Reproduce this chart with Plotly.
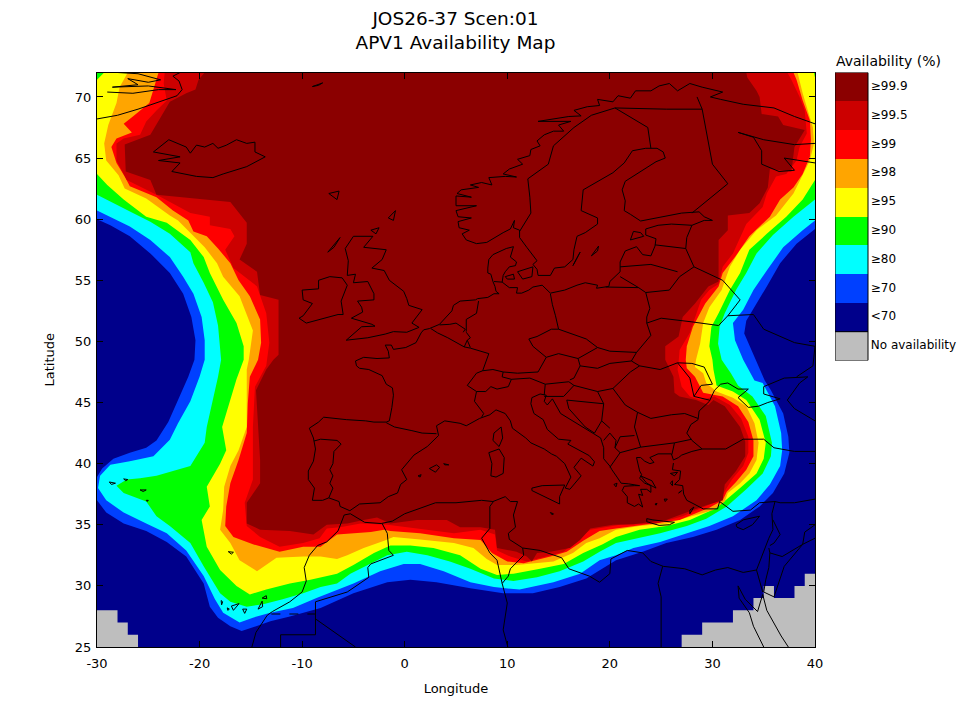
import plotly.graph_objects as go

TITLE_TEXT = "JOS26-37 Scen:01<br>APV1 Availability Map"
LEVEL_LABELS = ["≥99.9", "≥99.5", "≥99", "≥98", "≥95", "≥90", "≥80", "≥70", "<70", "No availability"]
LEVEL_COLORS = ["#8B0000", "#CC0000", "#FF0000", "#FFA500", "#FFFF00", "#00FF00", "#00FFFF", "#0040FF", "#00008B", "#BEBEBE"]
X_TICKS = [-30, -20, -10, 0, 10, 20, 30, 40]
Y_TICKS = [25, 30, 35, 40, 45, 50, 55, 60, 65, 70]

ALL_REGION = [(-30,25),(40,25),(40,72),(-30,72)]
GE70 = [(-30,60.0),(-28.7,59.5),(-26.8,58.6),(-24.8,57.2),(-22.9,55.6),(-21.6,53.9),(-20.8,52),(-20.4,50.1),(-20.5,48.5),(-21.1,47.1),(-22.1,45.2),(-23.05,43.4),(-24.2,41.9),(-25.2,41.3),(-26.8,40.9),(-28.4,40.4),(-29.5,39.6),(-30,38.9),(-30,37),(-29.1,36),(-27.4,35.1),(-25.2,34.5),(-23.2,33.6),(-21.3,32.4),(-19.6,30.2),(-19,28.3),(-18.2,27.4),(-17,26.7),(-15.9,26.3),(-14.8,26.6),(-13.1,27.1),(-11.2,27.5),(-9.6,27.9),(-8.2,28.2),(-5,29.4),(-1.7,30.3),(0.55,30.5),(3.1,30.3),(6.4,29.8),(9.6,29.4),(12.5,29.4),(15.1,29.9),(17.7,30.6),(19,31.3),(20.6,32.1),(23.2,32.8),(25.5,33.5),(28.1,34),(30.4,34.6),(32.7,35.4),(34.6,36.5),(35.9,37.6),(37,39.2),(37.5,40.9),(37.4,42.2),(36.9,44.1),(35.7,46),(35.1,46.8),(34,49),(33.1,50.65),(33.3,51.7),(34.1,52.8),(35.3,54.5),(36.6,56.4),(38.2,58),(40,59.2),(40,72),(-30,72)]
GE80 = [(-30,60.7),(-28.7,60.2),(-26.8,59.4),(-24.8,58.3),(-22.9,56.9),(-21.6,55.3),(-20.6,53.9),(-19.8,52),(-19.5,50.1),(-19.5,48.5),(-20,47.1),(-20.9,45.1),(-22.1,43.3),(-22.9,41.95),(-24.5,40.6),(-26.8,40.2),(-28.7,39.9),(-29.7,39),(-29.9,38),(-29.1,37),(-27.4,36),(-25.2,35.1),(-23.2,34.3),(-21.3,32.9),(-19.6,30.8),(-18.5,28.9),(-17.7,27.8),(-16.1,27),(-14.8,27.4),(-13.1,27.8),(-10.9,28.2),(-8.6,29),(-6.6,29.7),(-5,30.2),(-2.4,31.2),(-0.1,31.8),(1.5,31.8),(3.8,31.2),(6.4,30.3),(8.7,29.9),(11.2,29.7),(14.5,30.3),(17.1,31),(19,32.1),(20.6,32.5),(22.3,33.1),(24.9,33.6),(27.5,34.3),(29.7,34.9),(32,35.7),(34.3,37),(35.6,38.3),(36.6,39.8),(36.8,41.1),(36.7,42.5),(36.1,44.7),(34.9,46.6),(34.1,46.8),(33,48.5),(32.2,50.1),(32,51.5),(33,52.6),(34,54.2),(35.3,55.8),(36.9,57.7),(38.8,59.1),(40,59.9),(40,72),(-30,72)]
GE90 = [(-30,62),(-28.4,61.3),(-26.5,60.5),(-24.8,59.8),(-22.9,58.8),(-20.9,57.3),(-20.6,56.4),(-19.6,54.8),(-18.7,53.2),(-18.2,51.3),(-17.9,48.5),(-18.2,47.1),(-18.8,44.9),(-19.3,43),(-19.5,41.7),(-20.9,39.8),(-24.2,39),(-25.8,38.8),(-27.1,38.7),(-28.1,38.2),(-27.4,37.6),(-25.2,36.9),(-24.2,35.7),(-22.9,34.9),(-20.9,33.5),(-19.6,31.6),(-18,29.4),(-17,28.7),(-15.4,28.3),(-13.8,28.5),(-11.9,28.9),(-9.9,29.4),(-8.2,29.9),(-6.6,30.2),(-5.3,31),(-3.3,31.8),(-1.7,32.5),(0.2,32.8),(2.2,32.5),(4.4,32),(6.4,31.4),(8.7,30.6),(10.6,30.4),(12.9,30.7),(15.1,31.2),(17.4,32),(19,32.8),(20.6,33.5),(22.6,33.9),(24.9,34.3),(27.5,34.9),(29.4,35.5),(31.4,36.5),(33.3,37.9),(34.9,39.2),(35.7,40.6),(35.8,41.7),(35.2,43.9),(33.9,45.5),(32.5,46.4),(31.8,47.4),(30.9,48.5),(30.55,49.8),(30.7,51.2),(31.2,52.3),(32.3,54.2),(33.3,55.6),(34.3,57.2),(35.9,58.7),(37.9,60.2),(40,61.6),(40,72),(-30,72)]
GE95 = [(-29.3,72),(-30,71.4),(-30,63.7),(-29,62.8),(-27.4,61.6),(-25.2,60.2),(-23.2,59.7),(-20.9,58.3),(-19.6,56.9),(-19,55.6),(-17.7,53.4),(-16.4,51.5),(-15.7,49.6),(-15.7,48.5),(-16.4,46.9),(-17,45.2),(-17.8,43),(-17.4,41.1),(-18,40),(-19.3,38.1),(-19,36.5),(-19.8,35.4),(-19.3,33.2),(-18,31.3),(-16.4,30),(-15.1,29.3),(-13.5,29.7),(-11.2,30.2),(-9.2,30.5),(-6.6,31),(-5,31.7),(-3,32.7),(-1.4,33.3),(0.55,33.3),(2.8,33.1),(5.4,32.5),(7.4,31.4),(9,30.9),(10.6,31),(13.2,31.4),(15.5,31.8),(17.4,32.7),(19.3,33.4),(20.6,34),(22.9,34.6),(25.5,34.9),(27.8,35.4),(29.7,36.1),(31,36.8),(32.7,38),(34.3,39.2),(35,40.4),(35.2,41.7),(34.6,43.6),(33.3,45.2),(32,45.9),(30.4,46.4),(30.1,47.7),(30,48.5),(29.7,49.6),(29.9,51.2),(30.6,52.3),(31.7,54.2),(32.7,55.6),(33.6,57.5),(35.3,58.8),(37.2,60.2),(38.8,61.6),(40,63.2),(40,71.6),(39.9,72)]
GE98 = [(-27,72),(-27.8,70.8),(-28.1,69.5),(-28.9,67.7),(-29.3,66.2),(-29.1,64.8),(-27.9,63.6),(-27.3,62.5),(-25.2,61.7),(-22.9,60.3),(-22.1,59.9),(-20.8,58.8),(-19.5,57.7),(-18.3,56.4),(-17.7,55.3),(-16.1,53.7),(-14.8,50.9),(-15.2,48.5),(-15.4,47.7),(-15.4,44.9),(-15.4,43),(-16.2,41.1),(-17,39.8),(-17.6,38.1),(-17.7,36.2),(-18,34.6),(-17,33.5),(-16.1,32.1),(-14.4,31.2),(-12.5,32.3),(-9.9,32.4),(-8.2,32.4),(-6.6,32.2),(-5.6,32.5),(-4,33.1),(-2,33.7),(-1.1,34),(1.5,33.8),(4.8,33.5),(6.7,33.1),(8,32.2),(9,31.7),(10.9,31.7),(14.5,32),(16.4,32.7),(17.7,33.5),(19,33.9),(20.6,34.6),(22.9,34.9),(25.5,35.1),(28.1,35.7),(30.1,36.2),(31.2,36.9),(31.5,37.6),(32.7,38.4),(33.6,39.2),(34.3,40.3),(34.5,41.7),(34.1,43.3),(33.3,44.7),(32,45.4),(30.4,45.9),(29.4,46.6),(29.1,47.4),(28.3,47.9),(28.4,48.5),(28.8,49.8),(29.1,51.5),(29.7,52.8),(30.9,54.2),(31.7,56.1),(32.7,57.5),(34.3,59.1),(36.2,60.3),(37.9,62.1),(38.8,63.6),(39.5,64.8),(39.9,66.2),(39.8,67.5),(39.3,68.9),(38.8,70.3),(38.3,72)]
GE99 = [(-24,72),(-24.5,70.6),(-24.9,69.5),(-26.5,68.4),(-27.4,67.8),(-26.6,67.1),(-28.1,66.6),(-28.6,65.9),(-28.1,64.6),(-27.3,63.5),(-26.8,62.7),(-24.2,61.8),(-22.6,60.7),(-21.1,59.9),(-20.6,59),(-19.3,58.6),(-18.2,57.6),(-17,56.4),(-16.2,55),(-15.1,53.7),(-14.1,51.8),(-14,49.9),(-14.3,48.5),(-15.1,47.1),(-15.3,44.9),(-15.4,42.5),(-16.2,40.3),(-17,38.4),(-17.4,36.5),(-17.5,34.9),(-16.7,34),(-14.8,33.4),(-12.2,32.8),(-9.9,33.2),(-8.2,33.2),(-6.6,34.2),(-3.3,34.4),(-2,34.6),(-1.4,34.5),(1.5,34.3),(4.8,33.9),(7.4,33.75),(8.5,32.7),(10,32),(11.6,31.85),(14.2,32.4),(15.8,32.8),(17.4,33.7),(19,34.5),(20.6,34.7),(23.2,35),(26.8,35.4),(29.7,36.4),(31,37),(31.4,37.7),(32.3,38.5),(33.3,39.5),(34,40.6),(34,41.9),(33.5,43.4),(32.5,44.7),(31,45.5),(29.1,45.8),(28.8,46.3),(28.3,47.1),(27.5,47.8),(27.4,48.5),(27.5,49.6),(28.1,51.2),(29.3,53.1),(30.6,54.5),(31,55.6),(32.2,56.9),(33.6,58.6),(35.6,60.2),(36.6,61.6),(37.9,62.6),(38.8,63.7),(39.5,65.1),(39.6,66.5),(39.5,68.1),(38.8,69.7),(38.2,71.4),(37.9,72)]
GE995 = [(-23.4,72),(-23.5,71.1),(-23.2,69.7),(-24.2,68.9),(-25.2,68),(-25.8,66.9),(-27.4,66.6),(-28.1,66.2),(-28.1,64.8),(-27.1,63.2),(-24.2,62),(-22.9,61.4),(-20.9,60.5),(-19,60.2),(-19,59.5),(-17,59.2),(-16.6,58.6),(-17.5,57.5),(-16.7,56),(-14.4,54.5),(-14.1,53.7),(-13.5,52.3),(-13.2,49.9),(-13.5,48),(-14.6,46.3),(-14.8,43),(-14.8,40.3),(-14.8,38.7),(-15.6,36.8),(-15.4,34.9),(-14.1,34),(-12.2,33.2),(-9.9,33.5),(-8.3,33.9),(-7.6,34.7),(-6.3,34.8),(-4.3,35.1),(-1.7,35),(1.2,34.7),(4.8,34.3),(7.4,34.6),(8.8,34.2),(9,32.9),(10.3,32.4),(11.9,32),(14.2,32.5),(15.5,32.8),(16.8,33.75),(18.1,34.6),(21,35),(24.5,35.1),(27.1,35.7),(29.4,36.5),(30.7,37),(31.1,37.6),(31.9,38.7),(33,39.8),(33.5,40.9),(33.5,42.2),(32.8,43.7),(31.7,44.8),(30.2,45.5),(28.8,45.2),(27.8,45.5),(27,46.3),(26.6,47.7),(26.7,48.3),(26.8,49.3),(27.8,50.7),(28.9,53.4),(29.7,54.2),(30.6,54.7),(31,56.1),(32,57.2),(33.3,59.6),(34.9,61),(35.3,62.1),(36.2,63.5),(37.2,63.7),(38.2,64.8),(38.5,65.9),(39.2,67),(39,68.9),(38.5,70),(37.7,71.4),(37.3,72)]
GE999 = [(-19.5,72),(-20.1,71.4),(-20.4,70.6),(-21.3,70.3),(-22.9,69.6),(-23.4,68.9),(-24,68.1),(-24.8,66.9),(-27.3,66.1),(-27.2,63.9),(-24.8,63.2),(-24.2,62),(-17,61.4),(-15.4,59.7),(-15.4,58),(-16.1,56.7),(-14.4,55.7),(-14.1,53.8),(-12.3,53.4),(-12.3,48.9),(-12.8,48.5),(-13.5,47.7),(-14.5,46),(-14.3,43),(-14.1,40.3),(-14.1,38.4),(-15.4,36.8),(-15.4,35.1),(-14.1,34.6),(-11.2,34.5),(-8.9,34.2),(-7.6,35),(-5.6,35.1),(-4,35.4),(-2.7,35.6),(-1.4,35.1),(1.2,35.4),(4.1,35.4),(5.4,34.8),(7.4,34.8),(8.8,34.6),(9,33.1),(10.9,32.8),(11.9,32.4),(12.4,32),(12.9,32.7),(14.2,32.8),(16.1,33.1),(17.1,33.75),(18.1,34.7),(20.3,35),(22.3,35.05),(25.5,35.4),(26.8,35.8),(29.4,36.6),(31,37),(31.2,38.3),(32.3,39.4),(33.2,40.6),(33.2,41.8),(32.7,43),(31.2,44.7),(30.1,45.2),(29.6,44.8),(28.4,45.2),(26.8,45.5),(26.3,45.8),(26.2,47.1),(25.4,48.5),(25.4,49.6),(26.7,50.4),(27.1,52),(28.3,53.1),(29.6,54.5),(30.6,54.9),(30.6,58.3),(31.5,59.1),(31.5,60.3),(33.6,60.5),(34.6,61.3),(35.4,62.6),(35.6,64.1),(37.7,63.9),(38,65.9),(39,67.3),(36.9,67.7),(36.4,68.4),(34.8,68.6),(34.6,70),(34.3,70.5),(33.4,71.6),(33.3,72)]

NO_AVAIL_WEST = [(-30,25),(-30,28),(-28,28),(-28,27),(-27,27),(-27,26),(-26,26),(-26,25)]
NO_AVAIL_EAST = [(27,25),(27,26),(29,26),(29,27),(32,27),(32,28),(34,28),(34,29),(35,29),(35,30),(36,30),(36,29),(38,29),(38,30),(39,30),(39,31),(40,31),(40,25)]

COAST_EUROPE = [(-5.35,36.15),(-6.3,36.5),(-6.4,36.9),(-7.4,37.2),(-8,37),(-9,37),(-8.8,38),(-9.4,38.7),(-9.4,39.4),(-8.9,40.2),(-8.7,41.2),(-8.9,42.1),(-9.3,42.9),(-8.4,43.4),(-7.9,43.8),(-5.7,43.6),(-3.8,43.5),(-3,43.4),(-1.8,43.4),(-1.5,43.5),(-1.25,44.6),(-1.1,45.6),(-1.2,46.2),(-1.8,46.5),(-2.2,47.2),(-3.1,47.5),(-3.5,47.7),(-4.4,47.8),(-4.7,48),(-4.8,48.4),(-4,48.7),(-2.7,48.6),(-2,48.65),(-1.5,48.65),(-1.6,49.2),(-1.9,49.7),(-1.3,49.7),(-1.1,49.35),(0.1,49.5),(1.1,49.9),(1.6,50.7),(1.85,50.95),(2.4,51.05),(2.9,51.2),(3.4,51.4),(3.5,51.5),(4.1,52),(4.6,52.5),(4.75,52.95),(5.4,53.3),(6.9,53.4),(7.1,53.5),(8.1,53.6),(8.7,53.9),(9.2,53.9),(8.9,54.1),(8.8,54.5),(8.6,54.9),(8.4,55.5),(8.1,55.6),(8.1,56),(8.2,56.7),(8.6,57.1),(9.9,57.6),(10.6,57.75),(10.5,57.4),(10.3,56.9),(10.9,56.5),(10.8,56.2),(10.2,56.1),(9.8,55.7),(9.6,55.4),(9.5,54.85),(10.2,54.4),(11,54.4),(10.9,53.95),(11.4,53.95),(12.1,54.2),(12.5,54.45),(13.4,54.6),(14.2,53.95),(15.6,54.2),(16.8,54.6),(17.6,54.8),(18.8,54.6),(18.7,54.35),(19.9,54.5),(20,54.9),(21,55.7),(21,56.5),(21.5,57.4),(22.6,57.75),(23.2,57.1),(24,57),(24.4,57.8),(24.5,58.4),(23.5,58.7),(23.5,59.2),(24.7,59.5),(26,59.6),(28,59.5),(29.2,59.9),(30,59.9),(29.2,60.2),(28.7,60.6),(27,60.5),(25,60.2),(23,59.85),(22,60.4),(21.4,60.7),(21.5,61.5),(21.2,62.4),(21.5,63.1),(22.8,63.8),(24.5,64.7),(25.4,65),(25.2,65.5),(24.6,65.8),(23.5,65.8),(22.2,65.6),(21.4,64.6),(20.3,63.8),(18.7,63),(17.4,62.4),(17.2,60.7),(18.8,60.1),(18.8,59.6),(17.6,58.9),(16.8,58.6),(16.5,57.5),(16.4,56.7),(15.6,56.1),(14.6,56),(14.2,55.4),(13,55.4),(12.9,55.9),(12.5,56.3),(12.9,56.6),(11.9,57.7),(11.2,58.5),(11.2,59.1),(10.6,59.3),(10.7,59.9),(10.3,59.2),(9.6,58.9),(8,58.1),(7,58),(6,58.3),(5.6,58.8),(6.3,59.1),(5.3,59.3),(5.2,59.8),(6.5,60.1),(5.2,60.2),(5,60.7),(7,61.1),(5,61.1),(5,61.9),(6.5,61.8),(5.1,62.1),(5.5,62.4),(7.2,62.6),(6.4,62.8),(7.5,63),(8.5,62.8),(8.2,63.4),(9.8,63.5),(10.9,63.45),(9.6,63.7),(10.2,64.1),(11.5,64.5),(11,64.9),(12.2,65.2),(12.3,65.7),(13.2,66),(12.9,66.4),(13.6,66.9),(14.5,67.2),(15.5,67.2),(15,67.7),(16.2,68),(13,68),(16,68.4),(17.2,68.45),(16.5,68.9),(17.8,69.2),(19,69.3),(18.8,69.8),(20.3,69.6),(20.8,70.1),(22,69.9),(22.5,70.5),(24,70.5),(24.8,70.9),(25.8,71.1),(26.6,70.5),(27.8,71.1),(29,70.8),(31,70.4),(29.8,70),(30.8,69.8),(33,69.4),(36,69.1),(38,68.4),(40,67.8)]
COAST_WHITE_SEA = [(32.5,67.1),(34,66.7),(34.8,65.6),(34.8,64.5),(36.5,63.9),(38,64),(37,65),(38.5,64.8),(40,64.6)]
COAST_KOLA = [(32.5,67.1),(35,66.5),(38,66.1),(40,66.2)]
COAST_MED = [(-5.35,36.15),(-4.4,36.7),(-2.4,36.8),(-1.6,37.3),(-0.7,37.6),(-0.4,38.3),(0.2,38.7),(-0.3,39.5),(0.9,40.7),(2.2,41.4),(3.3,42.3),(3.1,43.1),(3.9,43.5),(5.4,43.3),(6,43.1),(7.3,43.7),(8.3,44),(8.9,44.4),(9.8,44.1),(10.3,43.5),(10.5,42.9),(11.8,42.1),(12.3,41.7),(13.6,41.2),(14.3,40.8),(14.8,40.6),(15.6,40),(16.2,38.9),(15.65,38),(16.1,37.9),(17.2,39),(16.5,39.7),(17.2,40.45),(18.35,39.8),(18.5,40.15),(18,40.65),(16.9,41.15),(15.9,41.6),(16.2,41.9),(15,42),(13.9,42.8),(13.5,43.6),(12.6,44.1),(12.3,44.9),(12.4,45.4),(13.2,45.7),(13.8,45.6),(13.6,45.1),(13.9,44.8),(14.4,45.3),(15.2,44.1),(16.4,43.5),(18.1,42.65),(19.1,42.1),(19.4,41.3),(19.4,40.4),(20,39.8),(20.2,39.5),(20.7,38.9),(21.1,38.4),(21.8,38.35),(22.9,38.2),(22.4,38.2),(21.4,38.15),(21.2,37.8),(21.7,37.3),(21.7,36.8),(22.4,36.5),(22.8,36.7),(23.2,36.45),(23,37),(22.8,37.5),(23.2,37.4),(23,37.9),(23.6,37.9),(24,37.65),(24,38.2),(23.4,38.4),(22.9,38.8),(23.1,39.1),(22.9,39.4),(22.7,40),(22.6,40.5),(23,40.5),(23.4,40.2),(23.9,40),(24.3,40.1),(23.9,40.5),(24.7,40.8),(26,40.8),(26.2,40.3),(26.7,40.5),(27,40.7),(28,41),(29,41.2),(28,41.9),(27.5,42.5),(27.9,43.2),(28.6,43.6),(28.7,44.3),(29.7,45.1),(30.2,46),(30.8,46.5),(31.5,46.6),(32.5,46.1),(33.5,46.1),(32.5,45.4),(33.5,44.6),(34.5,44.7),(35.4,45),(36.6,45.3),(35,45.7),(35,46.3),(37,47),(38.5,47.1),(39.3,47.1),(38.5,46.6),(37.7,45.7),(37.3,45.2),(38,44.5),(40,43.5)]
COAST_TURKEY = [(29,41.2),(31.3,41.2),(33,42),(35,42),(36,41.3),(38,41),(40,41)]
COAST_SOUTH = [(26.2,40.05),(26.1,39.5),(26.9,39.4),(26.8,38.7),(26.3,38.3),(27.1,38.2),(27.2,37.5),(27.5,37),(28.2,36.7),(29.1,36.3),(30.5,36.3),(30.7,36.9),(32,36.1),(33.7,36.2),(34.6,36.8),(36.1,36.9),(35.8,35.9),(35.9,34.6),(35.5,33.9),(35,32.8),(34.3,31.3),(33,31.1),(31.5,31.5),(30.3,31.3),(29,30.9),(27.3,31.4),(25.2,31.6),(24,32),(23.2,32.7),(21.7,32.9),(20.1,32.2),(20,31),(19,30.3),(18,30.8),(16,31.4),(15.3,32.3),(13.2,32.9),(11.5,33.1),(10.2,33.8),(10.1,34.3),(10.8,34.8),(10.6,35.8),(11,36.9),(10.3,36.9),(9.8,37.3),(8.6,36.9),(7.5,37),(5,36.8),(3,36.8),(0,35.9),(-1.2,35.3),(-2.3,35.1),(-3.9,35.2),(-5.3,35.9),(-5.9,35.8),(-6.5,34.5),(-7.6,33.6),(-8.5,33.3),(-9.3,32.5),(-9.8,31.5),(-9.6,30.4),(-10,29.5),(-11.2,28.7),(-12.9,27.9),(-13.4,27.6),(-14.5,26.2),(-14.9,25)]
COAST_RED_SEA = [(32.5,30),(33.2,28.9),(34.4,27.9),(34.9,29.3),(35.3,28),(36.7,25.9),(37.4,25)]
COAST_RED_SEA_WEST = [(32.5,30),(32.6,29),(33.6,27.8),(34,26.7),(35,25)]
COAST_GREENLAND_A = [(-30,68.2),(-28,68.5),(-26,69),(-24,69.6),(-22.2,70.1),(-21.7,70.6),(-22,71.3),(-22.6,71.7),(-21.9,72)]
COAST_GREENLAND_B = [(-29,70.4),(-26.5,70.3),(-24,70.6),(-22.3,70.6),(-25,70.9),(-28.5,70.8),(-26,71),(-27,71.5),(-25,71.2),(-23.8,71.4),(-26,71.9),(-28,72)]
ICELAND = [(-22.7,63.9),(-20.3,63.5),(-18.7,63.4),(-17.7,63.7),(-15.4,64.3),(-13.6,65.1),(-14.6,65.5),(-14.6,66.3),(-15.4,66.2),(-16.4,66.5),(-17.4,66.05),(-18.2,65.8),(-18.7,66.2),(-19.5,65.9),(-20.3,66.06),(-20.9,65.4),(-21.3,65.9),(-23,66.5),(-24.5,65.5),(-21.9,65.1),(-24,64.8),(-21.9,64.6),(-22.7,63.9)]
IRELAND = [(-6,52.2),(-6.2,53.3),(-5.6,54.6),(-6.1,55.2),(-7.3,55.3),(-8.4,55),(-8.4,54.3),(-10,54.2),(-9.9,53.4),(-9,53.1),(-9.9,52.1),(-10.3,51.9),(-9.6,51.5),(-8.3,51.8),(-6.5,52.2),(-6,52.2)]
BRITAIN = [(-5.7,50.1),(-3.6,50.3),(-1.9,50.6),(-1.1,50.8),(0.2,50.75),(1.4,51.15),(0.7,51.5),(1.7,52.6),(0.4,52.95),(0.2,53.5),(-0.1,54.1),(-1.5,55),(-2,55.8),(-3.2,56),(-2.2,56.7),(-1.8,57.5),(-4,57.7),(-3.1,58.6),(-5,58.6),(-5.8,57.6),(-5.5,56.6),(-5.6,55.4),(-4.8,55.5),(-5,54.8),(-3.6,54.9),(-3,53.9),(-3,53.4),(-4.6,53.3),(-4.2,52.8),(-4.1,52.4),(-5.2,51.9),(-3.2,51.4),(-2.9,51.25),(-4.2,51.2),(-5.7,50.1)]
SICILY = [(12.4,38),(13.4,38.2),(15.6,38.25),(15.1,37.3),(15.1,36.7),(14.4,37),(13.2,37.5),(12.4,37.8),(12.4,38)]
SARDINIA = [(8.2,40.9),(9.2,41.2),(9.7,40.5),(9.6,39.2),(8.9,38.9),(8.4,39),(8.5,40),(8.2,40.9)]
CORSICA = [(9.4,43),(9.55,42.1),(9.2,41.4),(8.6,41.9),(8.7,42.5),(9.4,43)]
MALLORCA = [(2.4,39.6),(3.1,39.9),(3.4,39.7),(3,39.3),(2.4,39.6)]
MENORCA = [(3.8,40),(4.3,39.9),(3.9,39.9),(3.8,40)]
IBIZA = [(1.3,39),(1.6,39.1),(1.5,38.9),(1.3,39)]
CYPRUS = [(32.3,35),(33,35.4),(34.6,35.7),(33.9,35),(33,34.6),(32.4,34.8),(32.3,35)]
CRETE = [(23.6,35.5),(24.2,35.4),(25.2,35.3),(26.3,35.2),(25.8,35),(24.8,34.95),(23.6,35.25),(23.6,35.5)]
GOTLAND = [(18.2,57),(18.9,57.8),(18.8,57.4),(18.2,57)]
OLAND = [(16.4,56.2),(17.1,57.3),(16.6,56.4),(16.4,56.2)]
SAAREMAA = [(22,58.3),(23.3,58.6),(23,58.9),(22.3,59),(22,58.3)]
ZEALAND = [(11,55.7),(12.5,56.1),(12.4,55.3),(11.5,55.1),(11,55.7)]
FUNEN = [(9.8,55.3),(10.6,55.5),(10.7,55.1),(10,55.1),(9.8,55.3)]
FAROE = [(-7.4,62.1),(-6.4,62.3),(-6.6,61.6),(-7.4,62.1)]
SHETLAND = [(-1.6,60.1),(-0.9,60.7),(-1.1,59.9),(-1.6,60.1)]
ORKNEY = [(-3.3,59.1),(-2.5,59.3),(-2.8,58.8),(-3.3,59.1)]
HEBRIDES = [(-7.5,57.3),(-6.3,58.5),(-6.9,57.7),(-7.5,57.3)]
JAN_MAYEN = [(-9,70.85),(-8,71.15),(-8.4,70.95),(-9,70.85)]
LESBOS = [(25.9,39.2),(26.6,39.3),(26.3,39),(25.9,39.2)]
CHIOS = [(25.9,38.4),(26.1,38.6),(26.1,38.2),(25.9,38.4)]
RHODES = [(27.8,36.2),(28.2,36.45),(27.8,35.9),(27.8,36.2)]
EUBOEA = [(23,39),(24.1,38.6),(24.5,38),(23.6,38.4),(23,39)]
KEFALONIA = [(20.4,38.3),(20.7,38.4),(20.6,38.1),(20.4,38.3)]
CYCLADES_A = [(25.3,37.1),(25.6,37.1),(25.4,36.9),(25.3,37.1)]
CYCLADES_B = [(24.4,36.7),(24.6,36.75),(24.5,36.6),(24.4,36.7)]
CYCLADES_C = [(26.9,37.7),(27,37.8),(26.7,37.6),(26.9,37.7)]
MALTA = [(14.2,36),(14.5,35.9),(14.4,35.8),(14.2,36)]
AZORES_A = [(-28.8,38.5),(-28.2,38.4),(-28.6,38.3),(-28.8,38.5)]
AZORES_B = [(-27.4,38.75),(-27,38.7),(-27.2,38.6),(-27.4,38.75)]
AZORES_C = [(-25.8,37.85),(-25.2,37.85),(-25.5,37.72),(-25.8,37.85)]
AZORES_D = [(-25.2,37),(-25,37),(-25.1,36.9),(-25.2,37)]
MADEIRA = [(-17.2,32.8),(-16.7,32.75),(-16.9,32.6),(-17.2,32.8)]
LA_PALMA = [(-17.9,28.8),(-17.75,28.7),(-17.85,28.45),(-17.9,28.8)]
GOMERA = [(-17.3,28.2),(-17.1,28.1),(-17.25,28),(-17.3,28.2)]
TENERIFE = [(-16.9,28.35),(-16.15,28.55),(-16.7,28),(-16.9,28.35)]
GRAN_CANARIA = [(-15.8,28.1),(-15.4,28.1),(-15.6,27.75),(-15.8,28.1)]
FUERTEVENTURA = [(-14.3,28.1),(-13.9,28.75),(-13.85,28.3),(-14.3,28.1)]
LANZAROTE = [(-13.9,29),(-13.5,29.2),(-13.45,28.95),(-13.9,29)]

BORDERS = [
    [(-1.8,43.35),(-1,43),(0.7,42.7),(1.7,42.5),(3.1,42.45)],
    [(-8.85,41.85),(-8.2,42),(-6.6,41.9),(-6.2,41.6),(-6.9,41),(-7,40),(-7.3,39.5),(-7,39),(-7.3,38.4),(-7,38),(-7.4,37.2)],
    [(2.55,51.05),(3.2,50.7),(4.2,50.3),(4.8,50),(5.8,49.55),(6.4,49.45),(8.2,49),(7.6,47.6),(7,47.4),(6.1,46.4),(7,45.9),(6.8,45.1),(7.7,44.1),(7.5,43.8)],
    [(7.6,47.6),(8.6,47.7),(9.6,47.5),(9.5,47.1),(10.4,46.9),(10.1,46.3),(9,46.1),(8.4,46.3),(7.9,45.9),(7,45.9)],
    [(7.2,53.3),(7,52.3),(6,51.8),(6,50.8)],
    [(3.4,51.35),(4.4,51.4),(5,51.5),(5.9,51),(5.7,50.75)],
    [(6,50.75),(6.4,50.3),(6.1,50.1),(5.8,49.55)],
    [(6.1,50.1),(6.4,49.5)],
    [(8.7,54.9),(9.5,54.85)],
    [(14.2,53.9),(14.4,53),(14.7,52.1),(15,51)],
    [(15,51),(14.3,51),(12.9,50.4),(12.1,50.2),(12.5,49.6),(13.8,48.7)],
    [(13.8,48.7),(13,47.5),(11,47.4),(9.6,47.5)],
    [(15,51),(16.3,50.6),(17.7,50.2),(18.8,49.5)],
    [(13.8,48.7),(15,49),(16.9,48.6)],
    [(16.9,48.6),(18.8,49.5)],
    [(18.8,49.5),(20,49.2),(22.6,49.1)],
    [(17.1,48),(18.8,47.8),(20,48.2),(22.1,48.4)],
    [(22.1,48.4),(22.6,49.1)],
    [(16.9,48.6),(17.1,48),(16.5,47),(16.1,46.85)],
    [(10.4,46.9),(12.2,47),(13.7,46.5)],
    [(13.7,46.5),(16,46.7),(16.5,46.4)],
    [(13.7,46.5),(13.6,45.6)],
    [(13.6,45.5),(15.5,45.5),(16.5,46.4)],
    [(16.5,46.4),(18.8,45.9)],
    [(18.8,45.9),(20.3,46.15)],
    [(20.3,46.15),(22,47.5),(22.9,48)],
    [(22.1,48.4),(22.9,48)],
    [(22.9,48),(24.9,47.7),(26.6,48.25)],
    [(26.6,48.25),(28,48.2),(29.2,47.9),(30,46.5),(28.9,46.4),(28.2,45.5)],
    [(26.6,48.25),(27.8,47),(28.2,45.5)],
    [(28.2,45.5),(29.7,45.2)],
    [(22.7,44.2),(24,43.7),(26,44),(27.3,44.1),(28.6,43.7)],
    [(20.3,46.15),(21.5,44.8),(22.7,44.2)],
    [(22.7,44.2),(22.4,43),(23,41.35)],
    [(23,41.35),(26.3,41.7)],
    [(26.3,41.7),(28,42)],
    [(26.3,41.7),(26.05,40.75)],
    [(22.4,42.3),(21,42.2),(20.5,41.3),(21,40.9),(23,41.35)],
    [(21,40.9),(20,39.7)],
    [(19.4,41.9),(20,42.5),(20.6,41.9),(20.5,41.3)],
    [(19.4,44.9),(19.2,43.5)],
    [(18.8,45.9),(19.4,44.9)],
    [(19.4,44.9),(15.8,45.2),(16,44.5),(17.6,43),(18.5,42.5)],
    [(18.5,42.5),(19.2,43.5),(20,42.9)],
    [(19.6,54.45),(22.8,54.4)],
    [(22.8,54.4),(23.5,54)],
    [(23.5,54),(23.9,52.7),(23.6,52),(23.6,51.5)],
    [(23.6,51.5),(24,50.5),(22.6,49.1)],
    [(23.6,51.5),(25,51.9),(28,51.6),(30.6,51.3)],
    [(23.5,54),(25.8,54.2),(26.8,55.3),(28.2,56.1)],
    [(28.2,56.1),(31,55),(32.7,53.4),(31.5,52.1),(30.6,51.3)],
    [(31.5,52.1),(34,52.2),(35,51),(38,49.9),(40,49.6)],
    [(40,49.6),(39.8,48),(38.2,47.1)],
    [(21,56.1),(24,56.3),(26.6,55.7)],
    [(24.4,57.9),(27.4,57.6)],
    [(27.4,57.6),(27.5,58.5),(28,59.5)],
    [(27.4,57.6),(28.2,56.1)],
    [(21,55.3),(22.8,54.4)],
    [(28,60.5),(31.5,62.9),(30,64.5),(29.5,66.9),(29,69),(28.5,70)],
    [(29,69),(25.5,69),(20.5,69.1)],
    [(24,65.8),(23.7,67.5),(20.5,69.1)],
    [(11.2,59),(12.3,60.5),(12.2,61.8),(12,63.3),(14,64.5),(14.5,66),(16.5,67.5),(18.2,68.5),(20.5,69.1)],
    [(-2.2,35.1),(-1.7,34.3),(-1.55,32.9),(-1.1,32.5),(-3.3,31.8),(-3.6,31.5),(-3.5,30.7),(-5.6,29.5),(-8.7,28.7),(-8.7,26)],
    [(-8.7,27.3),(-4.8,25)],
    [(-12.1,25),(-12.1,26),(-8.7,26)],
    [(8.65,36.9),(8.3,36.5),(8.3,34.7),(7.5,33.9),(8.3,32.7),(9,32.1),(9.5,30.2)],
    [(11.5,33.1),(11.6,32.5),(10.3,31.4),(10.1,30.8),(9.5,30.2)],
    [(9.5,30.2),(10,28.6),(9.6,26.4),(10.05,25)],
    [(25.15,31.6),(24.7,30.2),(25,29.1),(25,25)],
    [(34.3,31.3),(34.9,29.5)],
    [(35.5,33.1),(35.6,32.7),(35.5,31.5),(35.2,30.5),(35,29.5)],
    [(35,29.5),(36,29.1),(37,31.6),(38.8,33.4),(40,33.9)],
    [(35.6,32.7),(36.8,32.4),(38.8,33.4)],
    [(35.9,35.4),(36.6,34.2),(36,33.5),(35.6,33.3)],
    [(38.8,33.4),(39,34.4),(40,35)],
    [(36.1,36.9),(36.6,36.8),(38,36.8),(40,37.1)],
]
DASHED_BORDER = [(-13,27.7),(-8.7,27.7)]

CLOSED_SHAPES = [ICELAND, IRELAND, BRITAIN, SICILY, SARDINIA, CORSICA, MALLORCA, MENORCA, IBIZA, CYPRUS, CRETE, GOTLAND, OLAND, SAAREMAA, ZEALAND, FUNEN, FAROE, SHETLAND, ORKNEY, HEBRIDES, JAN_MAYEN, LESBOS, CHIOS, RHODES, EUBOEA, KEFALONIA, CYCLADES_A, CYCLADES_B, CYCLADES_C, MALTA, AZORES_A, AZORES_B, AZORES_C, AZORES_D, MADEIRA, LA_PALMA, GOMERA, TENERIFE, GRAN_CANARIA, FUERTEVENTURA, LANZAROTE]
OPEN_COASTS = [COAST_EUROPE, COAST_WHITE_SEA, COAST_KOLA, COAST_MED, COAST_TURKEY, COAST_SOUTH, COAST_RED_SEA, COAST_RED_SEA_WEST, COAST_GREENLAND_A, COAST_GREENLAND_B]


def unzip_lines(lines):
    xs, ys = [], []
    for line in lines:
        xs += [p[0] for p in line] + [None]
        ys += [p[1] for p in line] + [None]
    return xs, ys


fig = go.Figure()

levels = [(ALL_REGION, 8), (GE70, 7), (GE80, 6), (GE90, 5), (GE95, 4), (GE98, 3), (GE99, 2), (GE995, 1), (GE999, 0), (NO_AVAIL_WEST, 9), (NO_AVAIL_EAST, 9)]
for poly, idx in levels:
    fig.add_trace(go.Scatter(x=[p[0] for p in poly], y=[p[1] for p in poly], mode="lines", fill="toself",
                             fillcolor=LEVEL_COLORS[idx], line=dict(width=0, color=LEVEL_COLORS[idx]),
                             hoverinfo="skip", showlegend=False))

x_lines, y_lines = unzip_lines(OPEN_COASTS + CLOSED_SHAPES + BORDERS)
fig.add_trace(go.Scatter(x=x_lines, y=y_lines, mode="lines", line=dict(color="black", width=1),
                         hoverinfo="skip", showlegend=False))
fig.add_trace(go.Scatter(x=[p[0] for p in DASHED_BORDER], y=[p[1] for p in DASHED_BORDER], mode="lines",
                         line=dict(color="black", width=1, dash="dash"), hoverinfo="skip", showlegend=False))

rows = list(range(len(LEVEL_LABELS)))
n = len(rows) - 1
colorscale = []
for i, c in enumerate(LEVEL_COLORS):
    colorscale += [[i / (n + 1), c], [(i + 1) / (n + 1), c]]
SWATCH = 33 / 125
fig.add_trace(go.Heatmap(z=[[r] for r in rows], x=[0, SWATCH], y=rows, xaxis="x2", yaxis="y2", zmin=-0.5, zmax=n + 0.5,
                         colorscale=colorscale, showscale=False, hoverinfo="skip"))
fig.add_trace(go.Scatter(x=[SWATCH + 0.022] * len(rows), y=rows, xaxis="x2", yaxis="y2", mode="text", text=LEVEL_LABELS,
                         textposition="middle right", textfont=dict(family="DejaVu Sans", size=12, color="black"),
                         hoverinfo="skip", showlegend=False))

FONT = "DejaVu Sans"
fig.update_layout(
    width=960, height=720, autosize=False, paper_bgcolor="white", plot_bgcolor="white",
    margin=dict(l=0, r=0, t=0, b=0, autoexpand=False),
    font=dict(family=FONT, size=12, color="black"),
    title=dict(text=TITLE_TEXT, x=455.5 / 960, xanchor="center", y=1 - 25 / 720, yanchor="top",
               font=dict(family=FONT, size=18.5, color="black")),
    xaxis=dict(domain=[97 / 960, 815 / 960], range=[-30, 40], tickvals=X_TICKS, ticktext=[str(v) for v in X_TICKS],
               ticks="inside", ticklen=6, tickwidth=1, tickcolor="black", showline=True, linecolor="black", linewidth=1,
               mirror="allticks", showgrid=False, zeroline=False, tickfont=dict(size=13), anchor="y", ticklabelstandoff=4,
               title=dict(text="Longitude", font=dict(size=13), standoff=14)),
    yaxis=dict(domain=[73 / 720, 647.5 / 720], range=[25, 72], tickvals=Y_TICKS, ticktext=[str(v) for v in Y_TICKS],
               ticks="inside", ticklen=6, tickwidth=1, tickcolor="black", showline=True, linecolor="black", linewidth=1,
               mirror="allticks", showgrid=False, zeroline=False, tickfont=dict(size=13), anchor="x", ticklabelstandoff=2,
               title=dict(text="Latitude", font=dict(size=13), standoff=17)),
    xaxis2=dict(domain=[835 / 960, 960 / 960], range=[0, 1], visible=False, anchor="y2"),
    yaxis2=dict(domain=[359.5 / 720, 647.5 / 720], range=[n + 0.5, -0.5], visible=False, anchor="x2"),
    shapes=[dict(type="rect", xref="x2", yref="y2", x0=0, x1=SWATCH, y0=-0.5, y1=n + 0.5, line=dict(color="black", width=1)),
            dict(type="line", xref="x2", yref="y2", x0=0, x1=SWATCH, y0=n - 0.5, y1=n - 0.5, line=dict(color="black", width=1))],
    annotations=[dict(text="Availability (%)", xref="paper", yref="paper", x=835 / 960, y=1 - 61 / 720, xanchor="left",
                      xshift=-1, yanchor="middle", showarrow=False, font=dict(family=FONT, size=14, color="black"))],
)

fig.write_html("out.html", post_script="document.body.style.margin='0';", config={"displayModeBar": False})
